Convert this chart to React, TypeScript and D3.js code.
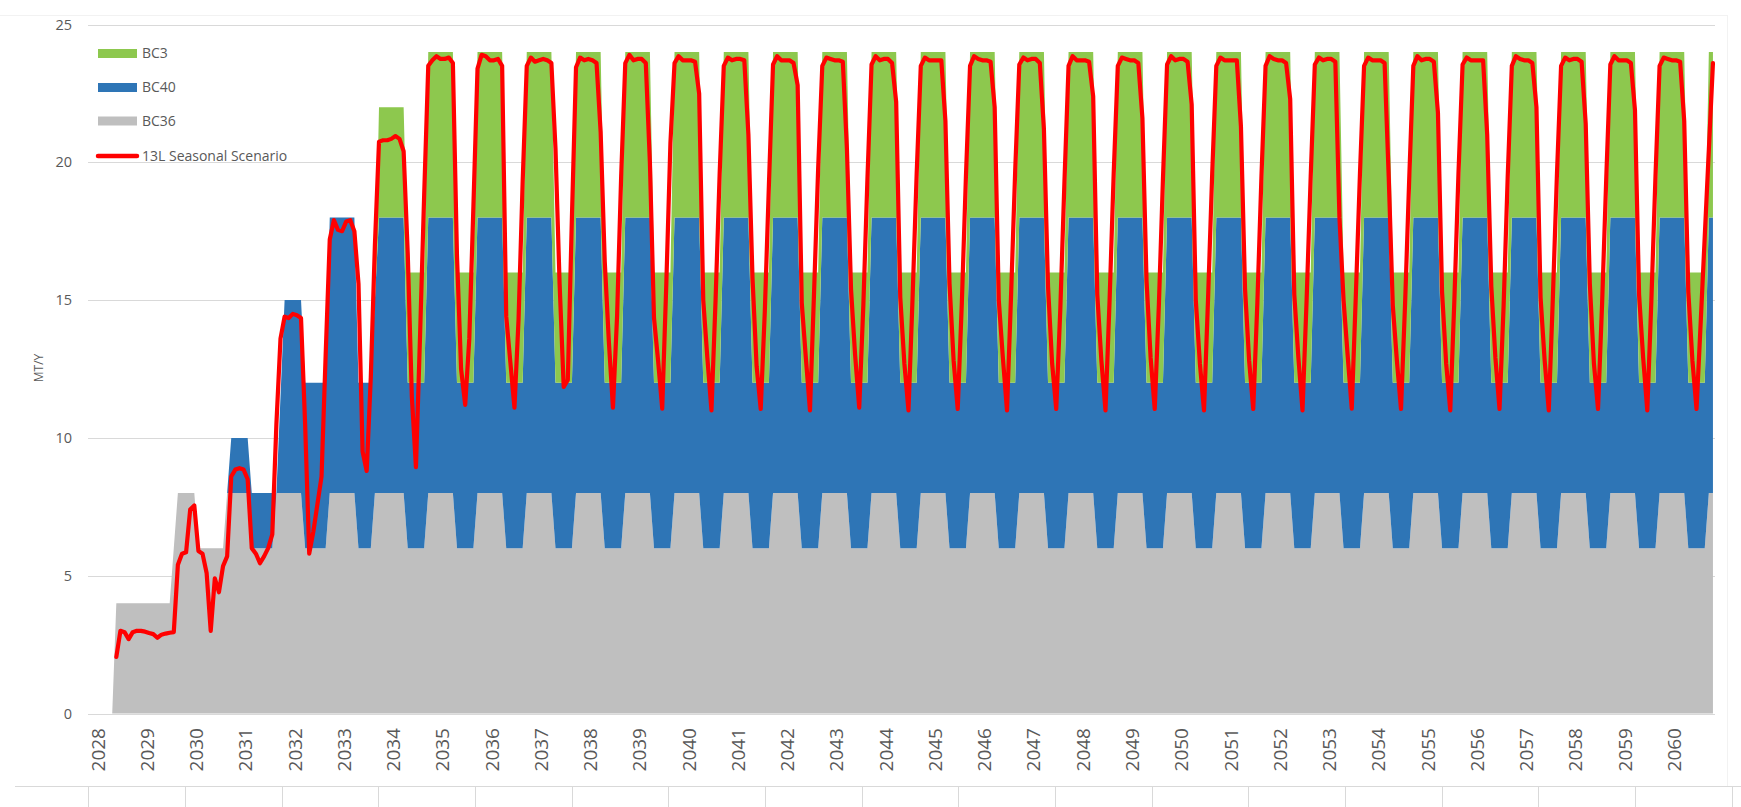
import React from "react";
import * as d3 from "d3";

// ---------- DATA (monthly, Nov 2027 .. Oct 2060) ----------
const YEAR_LABELS = [
  "2028","2029","2030","2031","2032","2033","2034","2035","2036","2037","2038",
  "2039","2040","2041","2042","2043","2044","2045","2046","2047","2048","2049",
  "2050","2051","2052","2053","2054","2055","2056","2057","2058","2059","2060",
];
const Y_TICKS = [0, 5, 10, 15, 20, 25];

// BC36 (grey), rows = years 2027(Nov-Dec) .. 2060(Jan-Oct)
const BC36: number[][] = [
  [0, 0],
  [0, 0, 0, 0, 4, 4, 4, 4, 4, 4, 4, 4],
  [4, 4, 4, 4, 4, 4, 6, 8, 8, 8, 8, 8],
  [6, 6, 6, 6, 6, 6, 6, 8, 8, 8, 8, 8],
  [8, 6, 6, 6, 6, 6, 6, 8, 8, 8, 8, 8],
  [8, 8, 6, 6, 6, 6, 6, 6, 8, 8, 8, 8],
  [8, 8, 8, 6, 6, 6, 6, 8, 8, 8, 8, 8],
  [8, 8, 8, 6, 6, 6, 6, 6, 8, 8, 8, 8],
  [8, 8, 8, 6, 6, 6, 6, 6, 8, 8, 8, 8],
  [8, 8, 8, 6, 6, 6, 6, 6, 8, 8, 8, 8],
  [8, 8, 8, 6, 6, 6, 6, 6, 8, 8, 8, 8],
  [8, 8, 8, 6, 6, 6, 6, 6, 8, 8, 8, 8],
  [8, 8, 8, 6, 6, 6, 6, 6, 8, 8, 8, 8],
  [8, 8, 8, 6, 6, 6, 6, 6, 8, 8, 8, 8],
  [8, 8, 8, 6, 6, 6, 6, 6, 8, 8, 8, 8],
  [8, 8, 8, 6, 6, 6, 6, 6, 8, 8, 8, 8],
  [8, 8, 8, 6, 6, 6, 6, 6, 8, 8, 8, 8],
  [8, 8, 8, 6, 6, 6, 6, 6, 8, 8, 8, 8],
  [8, 8, 8, 6, 6, 6, 6, 6, 8, 8, 8, 8],
  [8, 8, 8, 6, 6, 6, 6, 6, 8, 8, 8, 8],
  [8, 8, 8, 6, 6, 6, 6, 6, 8, 8, 8, 8],
  [8, 8, 8, 6, 6, 6, 6, 6, 8, 8, 8, 8],
  [8, 8, 8, 6, 6, 6, 6, 6, 8, 8, 8, 8],
  [8, 8, 8, 6, 6, 6, 6, 6, 8, 8, 8, 8],
  [8, 8, 8, 6, 6, 6, 6, 6, 8, 8, 8, 8],
  [8, 8, 8, 6, 6, 6, 6, 6, 8, 8, 8, 8],
  [8, 8, 8, 6, 6, 6, 6, 6, 8, 8, 8, 8],
  [8, 8, 8, 6, 6, 6, 6, 6, 8, 8, 8, 8],
  [8, 8, 8, 6, 6, 6, 6, 6, 8, 8, 8, 8],
  [8, 8, 8, 6, 6, 6, 6, 6, 8, 8, 8, 8],
  [8, 8, 8, 6, 6, 6, 6, 6, 8, 8, 8, 8],
  [8, 8, 8, 6, 6, 6, 6, 6, 8, 8, 8, 8],
  [8, 8, 8, 6, 6, 6, 6, 6, 8, 8, 8, 8],
  [8, 8, 8, 6, 6, 6, 6, 6, 8, 8],
];

// BC40 (blue)
const BC40: number[][] = [
  [0, 0],
  [0, 0, 0, 0, 0, 0, 0, 0, 0, 0, 0, 0],
  [0, 0, 0, 0, 0, 0, 0, 0, 0, 0, 0, 0],
  [0, 0, 0, 0, 0, 0, 0, 0, 2, 2, 2, 2],
  [2, 2, 2, 2, 2, 2, 2, 0, 3.5, 7, 7, 7],
  [7, 7, 6, 6, 6, 6, 6, 6, 10, 10, 10, 10],
  [10, 10, 10, 6, 6, 6, 6, 7, 10, 10, 10, 10],
  [10, 10, 10, 6, 6, 6, 6, 6, 10, 10, 10, 10],
  [10, 10, 10, 6, 6, 6, 6, 6, 10, 10, 10, 10],
  [10, 10, 10, 6, 6, 6, 6, 6, 10, 10, 10, 10],
  [10, 10, 10, 6, 6, 6, 6, 6, 10, 10, 10, 10],
  [10, 10, 10, 6, 6, 6, 6, 6, 10, 10, 10, 10],
  [10, 10, 10, 6, 6, 6, 6, 6, 10, 10, 10, 10],
  [10, 10, 10, 6, 6, 6, 6, 6, 10, 10, 10, 10],
  [10, 10, 10, 6, 6, 6, 6, 6, 10, 10, 10, 10],
  [10, 10, 10, 6, 6, 6, 6, 6, 10, 10, 10, 10],
  [10, 10, 10, 6, 6, 6, 6, 6, 10, 10, 10, 10],
  [10, 10, 10, 6, 6, 6, 6, 6, 10, 10, 10, 10],
  [10, 10, 10, 6, 6, 6, 6, 6, 10, 10, 10, 10],
  [10, 10, 10, 6, 6, 6, 6, 6, 10, 10, 10, 10],
  [10, 10, 10, 6, 6, 6, 6, 6, 10, 10, 10, 10],
  [10, 10, 10, 6, 6, 6, 6, 6, 10, 10, 10, 10],
  [10, 10, 10, 6, 6, 6, 6, 6, 10, 10, 10, 10],
  [10, 10, 10, 6, 6, 6, 6, 6, 10, 10, 10, 10],
  [10, 10, 10, 6, 6, 6, 6, 6, 10, 10, 10, 10],
  [10, 10, 10, 6, 6, 6, 6, 6, 10, 10, 10, 10],
  [10, 10, 10, 6, 6, 6, 6, 6, 10, 10, 10, 10],
  [10, 10, 10, 6, 6, 6, 6, 6, 10, 10, 10, 10],
  [10, 10, 10, 6, 6, 6, 6, 6, 10, 10, 10, 10],
  [10, 10, 10, 6, 6, 6, 6, 6, 10, 10, 10, 10],
  [10, 10, 10, 6, 6, 6, 6, 6, 10, 10, 10, 10],
  [10, 10, 10, 6, 6, 6, 6, 6, 10, 10, 10, 10],
  [10, 10, 10, 6, 6, 6, 6, 6, 10, 10, 10, 10],
  [10, 10, 10, 6, 6, 6, 6, 6, 10, 10],
];

// BC3 (green)
const BC3: number[][] = [
  [0, 0],
  [0, 0, 0, 0, 0, 0, 0, 0, 0, 0, 0, 0],
  [0, 0, 0, 0, 0, 0, 0, 0, 0, 0, 0, 0],
  [0, 0, 0, 0, 0, 0, 0, 0, 0, 0, 0, 0],
  [0, 0, 0, 0, 0, 0, 0, 0, 0, 0, 0, 0],
  [0, 0, 0, 0, 0, 0, 0, 0, 0, 0, 0, 0],
  [0, 0, 0, 0, 0, 0, 0, 0, 4, 4, 4, 4],
  [4, 4, 4, 4, 4, 4, 4, 4, 6, 6, 6, 6],
  [6, 6, 6, 4, 4, 4, 4, 4, 6, 6, 6, 6],
  [6, 6, 6, 4, 4, 4, 4, 4, 6, 6, 6, 6],
  [6, 6, 6, 4, 4, 4, 4, 4, 6, 6, 6, 6],
  [6, 6, 6, 4, 4, 4, 4, 4, 6, 6, 6, 6],
  [6, 6, 6, 4, 4, 4, 4, 4, 6, 6, 6, 6],
  [6, 6, 6, 4, 4, 4, 4, 4, 6, 6, 6, 6],
  [6, 6, 6, 4, 4, 4, 4, 4, 6, 6, 6, 6],
  [6, 6, 6, 4, 4, 4, 4, 4, 6, 6, 6, 6],
  [6, 6, 6, 4, 4, 4, 4, 4, 6, 6, 6, 6],
  [6, 6, 6, 4, 4, 4, 4, 4, 6, 6, 6, 6],
  [6, 6, 6, 4, 4, 4, 4, 4, 6, 6, 6, 6],
  [6, 6, 6, 4, 4, 4, 4, 4, 6, 6, 6, 6],
  [6, 6, 6, 4, 4, 4, 4, 4, 6, 6, 6, 6],
  [6, 6, 6, 4, 4, 4, 4, 4, 6, 6, 6, 6],
  [6, 6, 6, 4, 4, 4, 4, 4, 6, 6, 6, 6],
  [6, 6, 6, 4, 4, 4, 4, 4, 6, 6, 6, 6],
  [6, 6, 6, 4, 4, 4, 4, 4, 6, 6, 6, 6],
  [6, 6, 6, 4, 4, 4, 4, 4, 6, 6, 6, 6],
  [6, 6, 6, 4, 4, 4, 4, 4, 6, 6, 6, 6],
  [6, 6, 6, 4, 4, 4, 4, 4, 6, 6, 6, 6],
  [6, 6, 6, 4, 4, 4, 4, 4, 6, 6, 6, 6],
  [6, 6, 6, 4, 4, 4, 4, 4, 6, 6, 6, 6],
  [6, 6, 6, 4, 4, 4, 4, 4, 6, 6, 6, 6],
  [6, 6, 6, 4, 4, 4, 4, 4, 6, 6, 6, 6],
  [6, 6, 6, 4, 4, 4, 4, 4, 6, 6, 6, 6],
  [6, 6, 6, 4, 4, 4, 4, 4, 6, 6],
];

// 13L Seasonal Scenario (red line)
const SCENARIO: (number | null)[][] = [
  [null, null],
  [null, null, null, null, 2.05, 3.0, 2.95, 2.7, 2.95, 3.0, 3.0, 2.97],
  [2.92, 2.88, 2.75, 2.86, 2.9, 2.93, 2.95, 5.4, 5.8, 5.85, 7.4, 7.55],
  [5.9, 5.8, 5.1, 3.0, 4.9, 4.4, 5.35, 5.7, 8.6, 8.85, 8.9, 8.85],
  [8.5, 6.0, 5.8, 5.45, 5.7, 6.0, 6.5, 10.5, 13.6, 14.4, 14.35, 14.5],
  [14.45, 14.35, 10.5, 5.8, 6.6, 7.6, 8.6, 13.0, 17.2, 17.9, 17.55, 17.5],
  [17.85, 17.9, 17.5, 15.6, 9.5, 8.8, 12.2, 17.0, 20.75, 20.8, 20.8, 20.85],
  [20.95, 20.85, 20.4, 16.7, 11.5, 8.94, 13.7, 18.8, 23.5, 23.7, 23.85, 23.75],
  [23.75, 23.8, 23.6, 16.6, 12.5, 11.2, 13.6, 18.4, 23.4, 23.9, 23.85, 23.7],
  [23.7, 23.75, 23.5, 14.4, 12.75, 11.1, 14.3, 19.3, 23.5, 23.8, 23.65, 23.7],
  [23.75, 23.7, 23.6, 20.5, 15.6, 11.85, 12.1, 18.0, 23.45, 23.8, 23.7, 23.75],
  [23.7, 23.6, 21.1, 16.4, 13.5, 11.1, 14.4, 19.5, 23.6, 23.9, 23.7, 23.75],
  [23.75, 23.6, 20.0, 14.35, 12.8, 11.06, 15.6, 20.7, 23.6, 23.85, 23.7, 23.7],
  [23.7, 23.65, 22.5, 15.0, 12.9, 11.0, 15.0, 19.6, 23.5, 23.8, 23.7, 23.75],
  [23.75, 23.7, 21.0, 15.8, 12.6, 11.05, 14.6, 19.2, 23.55, 23.85, 23.7, 23.7],
  [23.7, 23.6, 22.8, 14.9, 12.9, 11.0, 15.3, 19.8, 23.5, 23.8, 23.75, 23.7],
  [23.7, 23.65, 20.5, 15.4, 13.0, 11.1, 14.8, 19.4, 23.55, 23.85, 23.7, 23.75],
  [23.75, 23.6, 22.2, 15.1, 12.7, 11.0, 15.1, 19.6, 23.5, 23.8, 23.7, 23.7],
  [23.7, 23.7, 21.5, 15.6, 12.8, 11.05, 14.9, 19.5, 23.5, 23.85, 23.75, 23.7],
  [23.7, 23.65, 22.0, 15.0, 12.9, 11.0, 15.2, 19.7, 23.55, 23.8, 23.7, 23.75],
  [23.75, 23.6, 21.2, 15.5, 12.7, 11.05, 14.7, 19.3, 23.5, 23.85, 23.7, 23.7],
  [23.7, 23.65, 22.4, 15.2, 12.8, 11.0, 15.0, 19.6, 23.5, 23.8, 23.75, 23.7],
  [23.7, 23.6, 21.6, 15.7, 12.9, 11.05, 14.8, 19.4, 23.55, 23.85, 23.7, 23.75],
  [23.75, 23.65, 22.1, 15.0, 12.7, 11.0, 15.1, 19.6, 23.5, 23.8, 23.7, 23.7],
  [23.7, 23.7, 21.3, 15.4, 12.8, 11.05, 14.9, 19.5, 23.5, 23.85, 23.75, 23.7],
  [23.7, 23.6, 22.3, 15.2, 12.9, 11.0, 15.0, 19.5, 23.55, 23.8, 23.7, 23.75],
  [23.75, 23.65, 18.0, 15.0, 13.0, 11.06, 15.2, 19.6, 23.5, 23.8, 23.7, 23.7],
  [23.7, 23.6, 19.5, 14.8, 12.8, 11.05, 14.9, 19.4, 23.5, 23.85, 23.7, 23.75],
  [23.75, 23.65, 21.8, 15.3, 12.7, 11.0, 15.0, 19.6, 23.55, 23.8, 23.7, 23.7],
  [23.7, 23.7, 21.0, 15.5, 12.9, 11.05, 14.8, 19.5, 23.5, 23.85, 23.75, 23.7],
  [23.7, 23.6, 22.0, 15.1, 12.8, 11.0, 15.1, 19.6, 23.5, 23.8, 23.7, 23.75],
  [23.75, 23.65, 21.4, 15.6, 12.7, 11.05, 14.9, 19.4, 23.55, 23.85, 23.7, 23.7],
  [23.7, 23.6, 21.9, 15.2, 12.9, 11.0, 15.0, 19.5, 23.5, 23.8, 23.75, 23.7],
  [23.7, 23.65, 21.5, 15.3, 12.8, 11.05, 14.15, 17.3, 20.45, 23.6],
];

const LEGEND = [
  { key: "bc3", label: "BC3", color: "#8DC84E", type: "area" },
  { key: "bc40", label: "BC40", color: "#2E75B6", type: "area" },
  { key: "bc36", label: "BC36", color: "#BFBFBF", type: "area" },
  { key: "s", label: "13L Seasonal Scenario", color: "#FF0000", type: "line" },
];

// ---------- LAYOUT ----------
const W = 1741;
const H = 807;
const PLOT_L = 88;
const PLOT_R = 1715;
const Y0 = 713.5;
const Y25 = 24.5;
const FIRST_M = -2; // Nov 2027 relative to Jan 2028
const FONT = "'Open Sans', 'DejaVu Sans', sans-serif";
const TXT = "#595959";

export default function App() {
  const bc36 = BC36.flat();
  const bc40 = BC40.flat();
  const bc3 = BC3.flat();
  const sc = SCENARIO.flat();
  const n = bc36.length;

  const table = d3.range(n).map((i) => ({
    m: FIRST_M + i,
    bc36: bc36[i],
    bc40: bc40[i],
    bc3: bc3[i],
    s: sc[i],
  }));

  const lastM = FIRST_M + n - 1;
  const x = d3
    .scaleLinear()
    .domain([FIRST_M - 0.9, lastM + 0.5])
    .range([PLOT_L, PLOT_R]);
  const y = d3.scaleLinear().domain([0, 25]).range([Y0, Y25]);

  const stacked = d3
    .stack<any>()
    .keys(["bc36", "bc40", "bc3"])(table as any);

  const colorOf: Record<string, string> = {
    bc36: "#BFBFBF",
    bc40: "#2E75B6",
    bc3: "#8DC84E",
  };

  const area = d3
    .area<any>()
    .x((d) => x(d.data.m))
    .y0((d) => y(d[0]))
    .y1((d) => y(d[1]));

  const line = d3
    .line<any>()
    .defined((d) => d.s != null)
    .x((d) => x(d.m))
    .y((d) => y(d.s));

  const yearFs = 19;
  const tableLines = d3.range(0, 18).map((k) => 88.3 + k * 96.67);

  return (
    <svg
      width={W}
      height={H}
      viewBox={`0 0 ${W} ${H}`}
      style={{ position: "fixed", left: 0, top: 0, background: "#fff" }}
      fontFamily={FONT}
    >
      <rect x={0} y={0} width={W} height={H} fill="#ffffff" />
      {/* faint chart border */}
      <line x1={0} x2={1727} y1={15.5} y2={15.5} stroke="#f2f2f2" />
      <line x1={1727.5} x2={1727.5} y1={15} y2={786} stroke="#f2f2f2" />

      {/* gridlines */}
      {Y_TICKS.map((t) => (
        <line
          key={t}
          x1={PLOT_L}
          x2={PLOT_R}
          y1={Math.round(y(t)) + 0.5}
          y2={Math.round(y(t)) + 0.5}
          stroke="#d9d9d9"
          strokeWidth={1}
        />
      ))}

      {/* stacked areas */}
      {stacked.map((s) => (
        <path key={s.key} d={area(s as any) || ""} fill={colorOf[s.key]} />
      ))}

      {/* scenario line */}
      <path
        d={line(table) || ""}
        fill="none"
        stroke="#FF0000"
        strokeWidth={4.2}
        strokeLinejoin="round"
        strokeLinecap="round"
      />

      {/* y tick labels */}
      {Y_TICKS.map((t) => (
        <text
          key={t}
          x={72}
          y={y(t)}
          dy="0.35em"
          textAnchor="end"
          fontSize={14.5}
          fill={TXT}
        >
          {t}
        </text>
      ))}

      {/* y axis title */}
      <text
        transform={`translate(39,368) rotate(-90)`}
        textAnchor="middle"
        dy="0.35em"
        fontSize={12}
        fill={TXT}
      >
        MT/Y
      </text>

      {/* x year labels */}
      {YEAR_LABELS.map((lab, i) => {
        const cx = x(i * 12) - 2;
        return (
          <text
            key={lab}
            transform={`translate(${cx + 0.357 * yearFs},728) rotate(-90)`}
            textAnchor="end"
            fontSize={yearFs}
            fill={TXT}
          >
            {lab}
          </text>
        );
      })}

      {/* legend */}
      {LEGEND.map((l, i) => {
        const ly = [53.5, 87.5, 121, 156][i];
        return (
          <g key={l.key}>
            {l.type === "area" ? (
              <rect x={98} y={ly - 4.5} width={39} height={9} fill={l.color} />
            ) : (
              <line
                x1={98}
                x2={137}
                y1={ly}
                y2={ly}
                stroke={l.color}
                strokeWidth={4.5}
                strokeLinecap="round"
              />
            )}
            <text x={142} y={ly} dy="0.35em" fontSize={14} fill={TXT}>
              {l.label}
            </text>
          </g>
        );
      })}

      {/* table grid below */}
      <line x1={15} x2={W} y1={786.5} y2={786.5} stroke="#d9d9d9" />
      {tableLines.map((lx, i) => (
        <line
          key={i}
          x1={Math.round(lx) + 0.5}
          x2={Math.round(lx) + 0.5}
          y1={786}
          y2={H}
          stroke="#d9d9d9"
        />
      ))}
    </svg>
  );
}
